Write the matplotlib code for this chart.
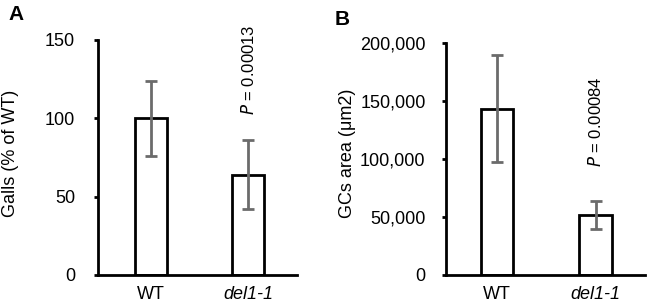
import matplotlib
matplotlib.use("Agg")
import matplotlib.pyplot as plt
from matplotlib.ticker import FuncFormatter

plt.rcParams['font.family'] = ['Liberation Sans', 'DejaVu Sans']

categories = ["WT", "del1-1"]
galls_mean = [100, 64]
galls_err = [24, 22]
area_mean = [143000, 52000]
area_err = [46000, 12000]
p_galls = "0.00013"
p_area = "0.00084"

W, H = 647, 305
fig = plt.figure(figsize=(6.47, 3.05), dpi=100)
axA = fig.add_axes([0.1515, 0.0984, 0.3075, 0.7706])
axB = fig.add_axes([0.690, 0.0984, 0.307, 0.7616])

def style(ax, pad):
    for s in ["top", "right"]:
        ax.spines[s].set_visible(False)
    for s in ["left", "bottom"]:
        ax.spines[s].set_linewidth(2)
        ax.spines[s].set_color("black")
    ax.tick_params(axis="y", direction="out", length=3, width=2, labelsize=13, pad=pad)
    ax.tick_params(axis="x", length=0, labelsize=13, pad=8)

x = list(range(len(categories)))
for ax, m, e, yl, ylim, ticks, pval, py, pad, lx in [
    (axA, galls_mean, galls_err, "Galls (% of WT)", (0, 150), [0, 50, 100, 150], p_galls, 131, 13.5, 10.5),
    (axB, area_mean, area_err, "GCs area (μm2)", (0, 200000), [0, 50000, 100000, 150000, 200000], p_area, 132000, 12, 348),
]:
    ax.bar(x, m, width=0.33, color="white", edgecolor="black", linewidth=2, zorder=2)
    ax.errorbar(x, m, yerr=e, fmt="none", ecolor="#6b6b6b", elinewidth=2, capsize=4, capthick=2, zorder=3)
    ax.set_ylim(*ylim)
    ax.set_yticks(ticks)
    ax.set_xticks(x)
    ax.set_xticklabels(categories)
    ax.get_xticklabels()[1].set_style("italic")
    ax.set_ylabel(yl, fontsize=13, va="center")
    ax.yaxis.set_label_coords(lx / W, 1 - 153 / H, transform=fig.transFigure)
    ax.text(1, py, r"$P$ = " + pval, rotation=90, ha="center", va="center", fontsize=12)
    style(ax, pad)

axA.set_xlim(-0.54, 1.5)
axB.set_xlim(-0.51, 1.5)
axB.yaxis.set_major_formatter(FuncFormatter(lambda v, p: f"{int(v):,}"))

fig.text(8 / W, 1 - 20 / H, "A", fontsize=15, fontweight="bold", va="baseline")
fig.text(335 / W, 1 - 25 / H, "B", fontsize=15, fontweight="bold", va="baseline")

fig.savefig("out.png", dpi=100)
